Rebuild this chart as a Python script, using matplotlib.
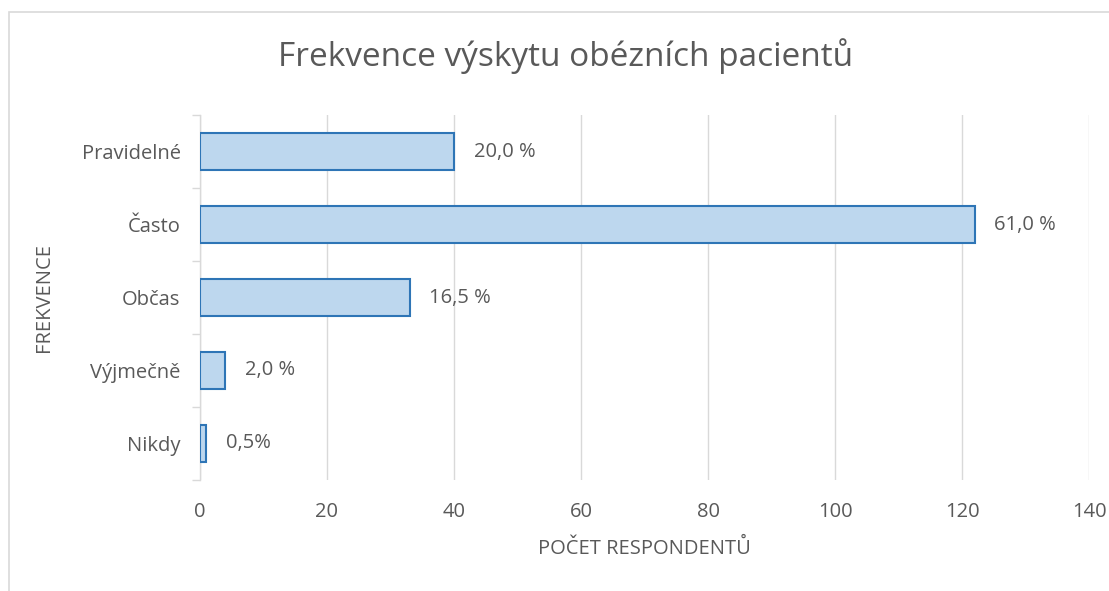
import numpy as np
import matplotlib.pyplot as plt
from matplotlib.patches import Rectangle

plt.rcParams['font.family'] = ['Open Sans', 'DejaVu Sans']

# Data
categories = ['Pravidelné', 'Často', 'Občas', 'Výjmečně', 'Nikdy']
counts = [40, 122, 33, 4, 1]
labels = ['20,0 %', '61,0 %', '16,5 %', '2,0 %', '0,5%']

gray = '#595959'
fig = plt.figure(figsize=(11.09, 5.91), dpi=100)
ax = fig.add_axes([0.1803, 0.188, 0.8017, 0.617])

# outer chart frame
fig.patches.append(Rectangle((0.008, -0.05), 1.2, 1.03, transform=fig.transFigure,
                             fill=False, edgecolor='#d9d9d9', linewidth=1.2))

y = np.arange(len(categories))[::-1]
ax.barh(y, counts, height=0.5, color='#bdd7ee', edgecolor='#2e75b6', linewidth=1.5, zorder=3)

for yi, c, lab in zip(y, counts, labels):
    ax.text(c + 3.1, yi, lab, va='center', ha='left', fontsize=14.5, color=gray)

ax.set_xlim(0, 140)
ax.set_ylim(-0.5, len(categories) - 0.5)
ax.set_xticks(np.arange(0, 141, 20))
ax.set_yticks(y)
ax.set_yticklabels(categories)
ax.set_yticks(np.arange(-0.5, len(categories), 1), minor=True)

ax.grid(axis='x', color='#d9d9d9', linewidth=1, zorder=0)
for s in ['top', 'right', 'bottom']:
    ax.spines[s].set_visible(False)
ax.spines['left'].set_color('#d9d9d9')
ax.spines['left'].set_linewidth(1)

ax.tick_params(axis='x', length=0, labelsize=14.5, labelcolor=gray, pad=16)
ax.tick_params(axis='y', which='major', length=0, labelsize=14.5, labelcolor=gray, pad=14)
ax.tick_params(axis='y', which='minor', length=6, color='#d9d9d9', width=1)

ax.set_xlabel('POČET RESPONDENTŮ', fontsize=14.5, color=gray, labelpad=12)
ax.set_ylabel('FREKVENCE', fontsize=14.5, color=gray, labelpad=20)

fig.text(0.51, 0.905, 'Frekvence výskytu obézních pacientů', ha='center', va='center',
         fontsize=24, color=gray)

fig.savefig('out.png', dpi=100)
